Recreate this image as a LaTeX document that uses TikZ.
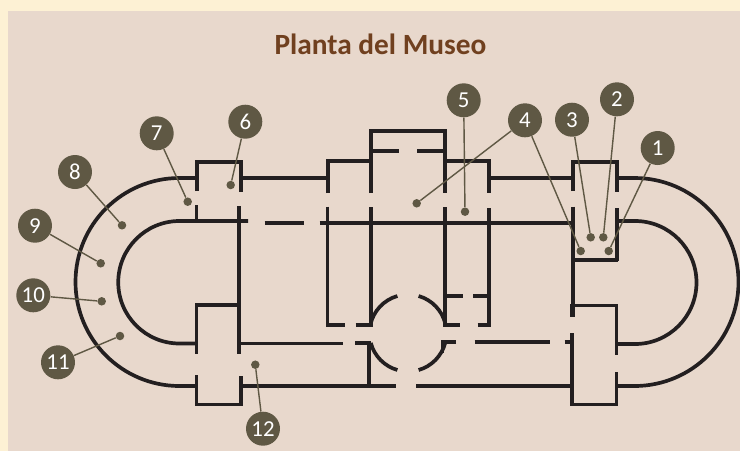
\documentclass[tikz,border=0pt]{standalone}
\usepackage{fontspec}
\setmainfont{Carlito}
\definecolor{creamback}{HTML}{FDF1D4}
\definecolor{panelback}{HTML}{E8D8CC}
\definecolor{titlebrown}{HTML}{70401F}
\definecolor{wallblack}{HTML}{231F20}
\definecolor{calloutgrey}{HTML}{5F5844}
\tikzset{
  wall/.style={draw=wallblack,line width=2.1pt},
  callout/.style={circle,fill=calloutgrey,text=white,minimum size=0.68cm,inner sep=0pt,font=\fontsize{13}{14}\selectfont},
  spot/.style={circle,fill=calloutgrey,minimum size=0.17cm,inner sep=0pt},
  leader/.style={draw=calloutgrey,line width=0.8pt}
}
\begin{document}
\begin{tikzpicture}[x=0.02cm,y=0.02cm]
\useasboundingbox (0,0) rectangle (740,-451);
\fill [creamback] (0,0) rectangle (740,-451);
\fill [panelback] (8,-11) rectangle (740,-451);
\node (title) at (380.5,-44) {\fontsize{16.7}{20}\selectfont\bfseries\color{titlebrown}Planta del Museo};
% left half rounds
\draw [wall] (197,-178) -- (179.5,-178) arc (90:270:104) -- (197,-386);
\draw [wall] (248,-221) -- (179.5,-221) arc (90:270:61.25) -- (197,-343.5);
% right half rounds
\draw [wall] (617,-178) -- (634.5,-178) arc (90:-90:104) -- (617,-386);
\draw [wall] (617,-221) -- (635,-221) arc (90:-90:61.5) -- (617,-344);
% room tops
\draw [wall] (197,-191) -- (197,-162) -- (241,-162) -- (241,-192);
\draw [wall] (241,-178) -- (328,-178);
\draw [wall] (328,-193) -- (328,-161) -- (371,-161);
\draw [wall] (371,-193) -- (371,-131) -- (445,-131) -- (445,-193);
\draw [wall] (371,-151) -- (399,-151);
\draw [wall] (417,-151) -- (445,-151);
\draw [wall] (445,-161) -- (489,-161) -- (489,-193);
\draw [wall] (489,-178) -- (573,-178);
\draw [wall] (573,-191) -- (573,-162) -- (617,-162) -- (617,-192);
% long middle line
\draw [wall] (264.5,-223) -- (304,-223);
\draw [wall] (319.5,-223) -- (573,-223);
\draw [wall] (196.5,-205) -- (196.5,-221);
\draw [wall] (239,-206) -- (239,-353.5);
\draw [wall] (327.5,-206.5) -- (327.5,-325) -- (345,-325);
\draw [wall] (355.5,-325) -- (371,-325) -- (371,-207);
\draw [wall] (445,-207) -- (445,-325) -- (459.5,-325);
\draw [wall] (477.5,-325) -- (489,-325) -- (489,-208);
\draw [wall] (445,-296) -- (463,-296);
\draw [wall] (473,-296) -- (489,-296);
% right small room
\draw [wall] (573,-206.5) -- (573,-316.5);
\draw [wall] (617,-208) -- (617,-261);
\draw [wall] (572,-260) -- (618,-260);
% rotunda
\draw [wall] (408,-333) ++(106:38.5) arc (106:168:38.5);
\draw [wall] (408,-333) ++(74:38.5) arc (74:14:38.5);
\draw [wall] (408,-333) ++(195:38.5) arc (195:254:38.5);
\draw [wall] (408,-333) ++(286:38.5) arc (286:345:38.5);
% lower corridor
\draw [wall] (239,-343.5) -- (342.5,-343.5);
\draw [wall] (355,-343) -- (369,-343) -- (369,-386);
\draw [wall] (456,-342) -- (442.5,-342) -- (442.5,-353);
\draw [wall] (474.5,-342) -- (549.5,-342);
\draw [wall] (564.5,-342) -- (573,-342);
\draw [wall] (241,-386) -- (396,-386);
\draw [wall] (416,-386) -- (572,-386);
% lower rooms
\draw [wall] (196.5,-353.5) -- (196.5,-305) -- (239,-305);
\draw [wall] (196.5,-375) -- (196.5,-404.5) -- (241,-404.5) -- (241,-376);
\draw [wall] (572,-316.5) -- (572,-305.5) -- (616.5,-305.5) -- (616.5,-355);
\draw [wall] (572,-333) -- (572,-404.5) -- (616.5,-404.5) -- (616.5,-372);
% spots
\node [spot] (s1) at (608.7,-251) {};
\node [spot] (s2) at (603.3,-237.3) {};
\node [spot] (s3) at (590.7,-237.3) {};
\node [spot] (s4a) at (416.7,-203.3) {};
\node [spot] (s4b) at (580.7,-251) {};
\node [spot] (s5) at (465,-211.7) {};
\node [spot] (s6) at (230.7,-185) {};
\node [spot] (s7) at (187.7,-201.7) {};
\node [spot] (s8) at (122,-225.3) {};
\node [spot] (s9) at (100.7,-263.3) {};
\node [spot] (s10) at (101.7,-301.3) {};
\node [spot] (s11) at (120,-336) {};
\node [spot] (s12) at (255.3,-364.7) {};
% numbers
\node [callout] (n1) at (657.7,-148) {1};
\node [callout] (n2) at (617,-99.3) {2};
\node [callout] (n3) at (572,-119.7) {3};
\node [callout] (n4) at (525,-120.3) {4};
\node [callout] (n5) at (463.7,-100.3) {5};
\node [callout] (n6) at (245.3,-121.7) {6};
\node [callout] (n7) at (156.7,-133.3) {7};
\node [callout] (n8) at (75,-172) {8};
\node [callout] (n9) at (35,-225.7) {9};
\node [callout] (n10) at (33.3,-295.3) {10};
\node [callout] (n11) at (58,-362.3) {11};
\node [callout] (n12) at (263,-428.7) {12};
% leaders
\draw [leader] (n1) -- (s1);
\draw [leader] (n2) -- (s2);
\draw [leader] (n3) -- (s3);
\draw [leader] (n4) -- (s4a);
\draw [leader] (n4) -- (s4b);
\draw [leader] (n5) -- (s5);
\draw [leader] (n6) -- (s6);
\draw [leader] (n7) -- (s7);
\draw [leader] (n8) -- (s8);
\draw [leader] (n9) -- (s9);
\draw [leader] (n10) -- (s10);
\draw [leader] (n11) -- (s11);
\draw [leader] (n12) -- (s12);
\end{tikzpicture}
\end{document}
